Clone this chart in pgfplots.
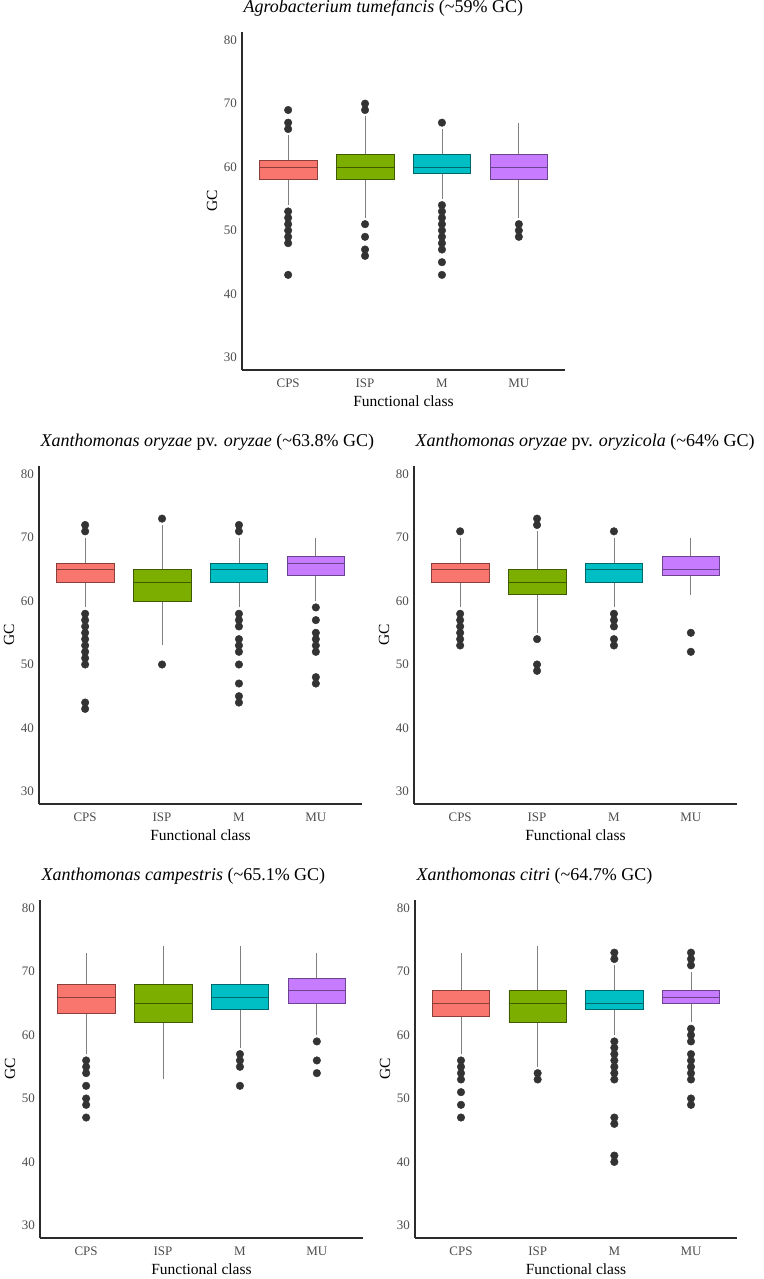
\documentclass[border=0pt]{standalone}
\usepackage{fontspec}
\setmainfont{Liberation Serif}
\usepackage{pgfplots}
\pgfplotsset{compat=1.18}
\definecolor{ccps}{HTML}{F8766D}
\definecolor{cisp}{HTML}{7CAE00}
\definecolor{cm}{HTML}{00BFC4}
\definecolor{cmu}{HTML}{C77CFF}
\definecolor{dcps}{HTML}{8A3F3A}
\definecolor{disp}{HTML}{3F5A00}
\definecolor{dm}{HTML}{00676A}
\definecolor{dmu}{HTML}{6C4390}
\definecolor{outl}{HTML}{333333}
\definecolor{whisk}{HTML}{808080}
\definecolor{ticklab}{HTML}{4D4D4D}
\definecolor{axln}{HTML}{2B2B2B}
\pgfplotsset{
  panel/.style={
    scale only axis, width=323pt, height=338pt,
    axis lines=left, axis line style={-, draw=axln, line width=1.3pt},
    major tick length=0pt,
    xmin=0.4, xmax=4.6, ymin=28, ymax=81.3,
    xtick={1,2,3,4}, xticklabels={CPS,ISP,M,MU},
    ytick={30,40,50,60,70,80},
    /pgf/number format/assume math mode=true,
    tick label style={font=\fontsize{13}{14}\selectfont, text=ticklab},
    xticklabel style={anchor=base, yshift=-17pt},
    yticklabel style={anchor=east, inner sep=0pt, xshift=-5pt},
    xlabel={Functional class}, ylabel={GC},
    label style={font=\fontsize{15.5}{17}\selectfont},
    xlabel style={at={(axis description cs:0.5,0)}, anchor=base, yshift=-36pt},
    ylabel style={at={(axis description cs:-0.093,0.5)}, anchor=center},
    title style={at={(0,1)}, anchor=base west, xshift=-2pt, yshift=14pt, font=\fontsize{18}{20}\selectfont},
    clip=false,
  },
}
% box: position, colour suffix, lower whisker, lower quartile, median, upper quartile, upper whisker
\newcommand{\bx}[7]{%
  \pgfmathsetmacro\xl{#1-0.375}\pgfmathsetmacro\xr{#1+0.375}%
  \addplot[draw=whisk, line width=0.8pt] coordinates {(#1,#3) (#1,#4)};
  \addplot[draw=whisk, line width=0.8pt] coordinates {(#1,#6) (#1,#7)};
  \addplot[fill=c#2, draw=d#2, line width=0.7pt, line join=miter] coordinates {(\xl,#4) (\xr,#4) (\xr,#6) (\xl,#6) (\xl,#4)};
  \addplot[draw=d#2, line width=1pt] coordinates {(\xl,#5) (\xr,#5)};
}
% outliers: position, list of values
\newcommand{\ol}[2]{%
  \addplot[only marks, mark=*, mark size=3.8pt, mark options={draw=outl, fill=outl}] table[row sep=\\, x expr=#1, y index=0] {data\\#2\\};
}
\begin{document}
\begin{tikzpicture}
\path[use as bounding box] (0pt,0pt) rectangle (763pt,-1279pt);
% Panel 1
\begin{axis}[panel, at={(242pt,-370pt)}, anchor=south west,
  title={\textit{Agrobacterium tumefancis} (\textasciitilde59\% GC)}]
\bx{1}{cps}{54}{58}{60}{61}{65}
\ol{1}{69\\67\\66\\53\\52\\51\\50\\49\\48\\43}
\bx{2}{isp}{52}{58}{60}{62}{68}
\ol{2}{70\\69\\51\\49\\47\\46}
\bx{3}{m}{55}{59}{60}{62}{66}
\ol{3}{67\\54\\53\\52\\51\\50\\49\\48\\47\\45\\43}
\bx{4}{mu}{52}{58}{60}{62}{67}
\ol{4}{51\\50\\49}
\end{axis}
% Panel 2
\begin{axis}[panel, at={(39pt,-804pt)}, anchor=south west,
  title={\textit{Xanthomonas oryzae} pv. \textit{oryzae} (\textasciitilde63.8\% GC)}]
\bx{1}{cps}{59}{63}{65}{66}{70}
\ol{1}{72\\71\\58\\57\\56\\55\\54\\53\\52\\51\\50\\44\\43}
\bx{2}{isp}{53}{60}{63}{65}{72}
\ol{2}{73\\50}
\bx{3}{m}{59}{63}{65}{66}{70}
\ol{3}{72\\71\\58\\57\\56\\54\\53\\52\\50\\47\\45\\44}
\bx{4}{mu}{60}{64}{66}{67}{70}
\ol{4}{59\\57\\55\\54\\53\\52\\48\\47}
\end{axis}
% Panel 3
\begin{axis}[panel, at={(414pt,-804pt)}, anchor=south west,
  title={\textit{Xanthomonas oryzae} pv. \textit{oryzicola} (\textasciitilde64\% GC)}]
\bx{1}{cps}{59}{63}{65}{66}{70}
\ol{1}{71\\58\\57\\56\\55\\54\\53}
\bx{2}{isp}{55}{61}{63}{65}{71}
\ol{2}{73\\72\\54\\50\\49}
\bx{3}{m}{59}{63}{65}{66}{70}
\ol{3}{71\\58\\57\\56\\54\\53}
\bx{4}{mu}{61}{64}{65}{67}{70}
\ol{4}{55\\52}
\end{axis}
% Panel 4
\begin{axis}[panel, at={(40pt,-1238pt)}, anchor=south west,
  title={\textit{Xanthomonas campestris} (\textasciitilde65.1\% GC)}]
\bx{1}{cps}{57}{63.4}{66}{68}{73}
\ol{1}{56\\55\\54\\52\\50\\49\\47}
\bx{2}{isp}{53}{62}{65}{68}{74}
\bx{3}{m}{58}{64}{66}{68}{74}
\ol{3}{57\\56\\55\\52}
\bx{4}{mu}{60}{65}{67}{69}{73}
\ol{4}{59\\56\\54}
\end{axis}
% Panel 5
\begin{axis}[panel, at={(415pt,-1238pt)}, anchor=south west, width=322pt,
  title={\textit{Xanthomonas citri} (\textasciitilde64.7\% GC)}]
\bx{1}{cps}{57}{63}{65}{67}{73}
\ol{1}{56\\55\\54\\53\\51\\49\\47}
\bx{2}{isp}{55}{62}{65}{67}{74}
\ol{2}{54\\53}
\bx{3}{m}{60}{64}{65}{67}{71}
\ol{3}{73\\72\\59\\58\\57\\56\\55\\54\\53\\47\\46\\41\\40}
\bx{4}{mu}{62}{65}{66}{67}{70}
\ol{4}{73\\72\\71\\61\\60\\59\\57\\56\\55\\54\\53\\50\\49}
\end{axis}
\end{tikzpicture}
\end{document}
